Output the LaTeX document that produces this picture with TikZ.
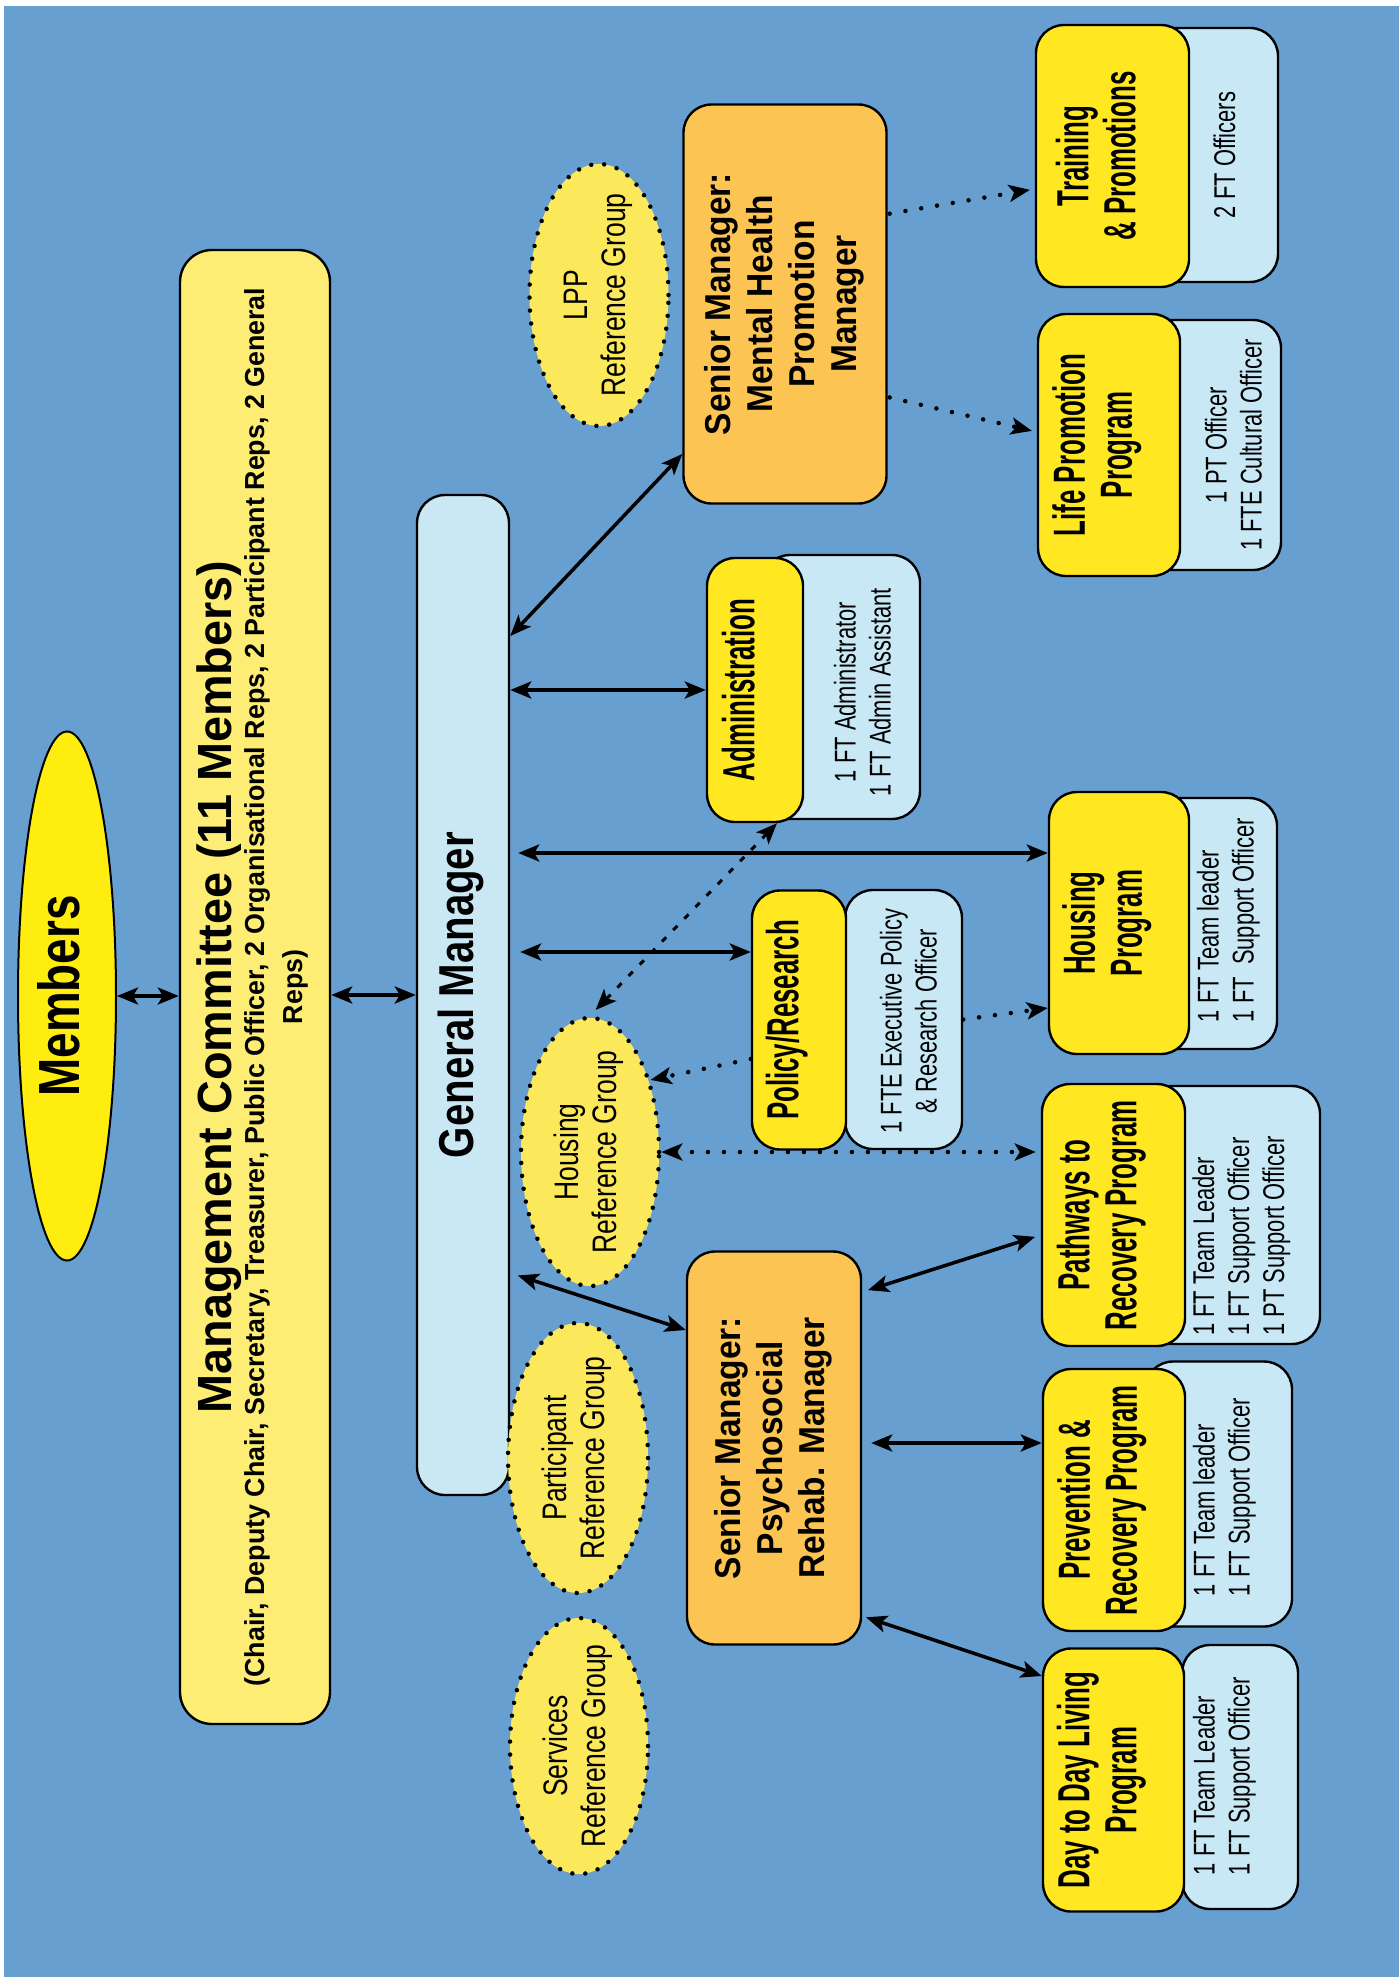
\documentclass[tikz,border=0pt]{standalone}
\usepackage{fontspec}
\usepackage{graphicx}
\setmainfont{Liberation Sans}
\newfontfamily\membfont[FakeStretch=0.79]{Liberation Sans}
\newfontfamily\mcfont[FakeStretch=0.975]{Liberation Sans}
\newfontfamily\gmfont[FakeStretch=0.82]{Liberation Sans}
\newfontfamily\smfont[FakeStretch=0.93]{Liberation Sans}
\newfontfamily\progfont[FakeStretch=0.575]{Liberation Sans}
\newfontfamily\stafffont[FakeStretch=0.73]{Liberation Sans}
\newfontfamily\rgfont[FakeStretch=0.78]{Liberation Sans}
\usetikzlibrary{arrows.meta,shapes.geometric}

\definecolor{bgblue}{HTML}{669FD0}
\definecolor{mcyellow}{HTML}{FDED74}
\definecolor{gmblue}{HTML}{CAE8F3}
\definecolor{staffblue}{HTML}{C8E8F5}
\definecolor{progyellow}{HTML}{FFE822}
\definecolor{membyellow}{HTML}{FFED10}
\definecolor{smorange}{HTML}{FCC452}
\definecolor{rgyellow}{HTML}{FCE95B}

\newcommand{\vtext}[2][c]{\rotatebox{90}{\begin{tabular}{@{}#1@{}}#2\end{tabular}}}

\begin{document}
\begin{tikzpicture}[x=1pt,y=-1pt,
    >={Stealth[length=21pt,width=17pt,inset=5pt]},
    every node/.style={inner sep=0pt},
    box/.style={draw,line width=2.4pt,rounded corners=28pt},
    progbox/.style={box,fill=progyellow,font=\progfont\bfseries\fontsize{45}{47}\selectfont,
      execute at end node={\hspace*{20pt}}},
    staffbox/.style={box,fill=staffblue},
    stafftext/.style={font=\stafffont\fontsize{30}{35}\selectfont},
    smbox/.style={box,fill=smorange,font=\smfont\bfseries\fontsize{36}{42}\selectfont},
    refgroup/.style={ellipse,draw,fill=rgyellow,line width=4.5pt,dash pattern=on 0pt off 13pt,line cap=round},
    rgtext/.style={font=\rgfont\fontsize{34}{38}\selectfont},
    solidarrow/.style={<->,line width=3.5pt},
    dotarrow/.style={line width=4.5pt,dash pattern=on 0pt off 16pt,line cap=round},
    dasharrow/.style={<->,line width=3pt,dash pattern=on 6pt off 10pt}]

  \useasboundingbox (0,0) rectangle (1399,1977);
  \fill[white] (0,0) rectangle (1399,1977);
  \fill[bgblue] (4,6) rectangle (1399,1977);

  \node[ellipse,draw,line width=2pt,fill=membyellow,minimum width=98pt,minimum height=529pt,
        font=\membfont\bfseries\fontsize{58}{60}\selectfont] (memb) at (67,996) {\vtext{Members}};

  \node[box,fill=mcyellow,rounded corners=32pt,minimum width=150pt,minimum height=1474pt,
        font=\mcfont\bfseries\fontsize{27.5}{38}\selectfont] (mc) at (255,987)
    {\vtext{{\fontsize{48}{50}\selectfont Management Committee (11 Members)}\\[-5pt]
      (Chair, Deputy Chair, Secretary, Treasurer, Public Officer, 2 Organisational Reps, 2 Participant Reps, 2 General\\
      Reps)}};

  \node[box,fill=gmblue,minimum width=92pt,minimum height=1000pt,
        font=\gmfont\bfseries\fontsize{49}{52}\selectfont] (gm) at (463,995) {\vtext{General Manager}};

  \node[smbox,minimum width=203pt,minimum height=399pt] (mh) at (785,304)
    {\vtext{Senior Manager:\\Mental Health\\Promotion\\Manager}};
  \node[smbox,minimum width=174pt,minimum height=393pt] (psr) at (774,1448)
    {\vtext{Senior Manager:\\Psychosocial\\Rehab. Manager}};

  \begin{scope}[every node/.append style={refgroup}]
    \node[minimum width=139pt,minimum height=262pt] (lpp) at (599,295) {};
    \node[minimum width=138pt,minimum height=268pt] (hrg) at (590,1152) {};
    \node[minimum width=140pt,minimum height=270pt] (prg) at (578,1458) {};
    \node[minimum width=138pt,minimum height=256pt] (srg) at (579,1746) {};
  \end{scope}
  \begin{scope}[every node/.append style={rgtext}]
    \node (lppTxt) at (lpp) {\vtext{LPP\\Reference Group}};
    \node (hrgTxt) at (hrg) {\vtext{Housing\\Reference Group}};
    \node (prgTxt) at (prg) {\vtext{Participant\\Reference Group}};
    \node (srgTxt) at (srg) {\vtext{Services\\Reference Group}};
  \end{scope}

  \node[staffbox,minimum width=131pt,minimum height=254pt] (trainStaff) at (1212.5,155) {};
  \node[progbox,minimum width=153pt,minimum height=262pt] (train) at (1112.5,156) {\vtext{Training\\\& Promotions}};
  \node[stafftext] (trainTxt) at (1228,155) {\vtext{2 FT Officers}};

  \node[staffbox,minimum width=141pt,minimum height=250pt] (lifeStaff) at (1210.5,445) {};
  \node[progbox,minimum width=142pt,minimum height=262pt] (life) at (1109,445) {\vtext{Life Promotion\\Program}};
  \node[stafftext] (lifeTxt) at (1237,445) {\vtext{1 PT Officer\\1 FTE Cultural Officer}};

  \node[staffbox,minimum width=158pt,minimum height=264pt] (adminStaff) at (841,687) {};
  \node[progbox,minimum width=96pt,minimum height=264pt] (admin) at (755,690) {\vtext{Administration}};
  \node[stafftext] (adminTxt) at (866,692) {\vtext{1 FT Administrator\\1 FT Admin Assistant}};

  \node[staffbox,minimum width=117pt,minimum height=259pt] (polStaff) at (903.5,1019.5) {};
  \node[progbox,minimum width=94pt,minimum height=259pt] (pol) at (799,1020) {\vtext{Policy/Research}};
  \node[stafftext] (polTxt) at (912,1021) {\vtext{1 FTE Executive Policy\\\& Research Officer}};

  \node[staffbox,minimum width=128pt,minimum height=251pt] (houseStaff) at (1213,923.5) {};
  \node[progbox,minimum width=140pt,minimum height=262pt] (house) at (1119,923) {\vtext{Housing\\Program}};
  \node[stafftext] (houseTxt) at (1229,920) {\vtext[l]{1 FT Team leader\\1 FT\ \ Support Officer}};

  \node[staffbox,minimum width=175pt,minimum height=258pt] (pathStaff) at (1232.5,1215) {};
  \node[progbox,minimum width=143pt,minimum height=262pt] (pathways) at (1113.5,1215) {\vtext{Pathways to\\Recovery Program}};
  \node[stafftext] (pathTxt) at (1242,1236) {\vtext[l]{1 FT Team Leader\\1 FT Support Officer\\1 PT Support Officer}};

  \node[staffbox,minimum width=147pt,minimum height=265pt] (prevStaff) at (1218.5,1494) {};
  \node[progbox,minimum width=142pt,minimum height=262pt] (prev) at (1114,1500) {\vtext{Prevention \&\\Recovery Program}};
  \node[stafftext] (prevTxt) at (1225,1497) {\vtext[l]{1 FT Team leader\\1 FT Support Officer}};

  \node[staffbox,minimum width=116pt,minimum height=264pt] (dayStaff) at (1240,1777) {};
  \node[progbox,minimum width=141pt,minimum height=263pt] (day) at (1113.5,1780) {\vtext{Day to Day Living\\Program}};
  \node[stafftext] (dayTxt) at (1225,1776) {\vtext[l]{1 FT Team Leader\\1 FT Support Officer}};

  \begin{scope}[every path/.append style={solidarrow}]
    \draw (memb.east) -- (memb.east -| mc.west);
    \draw (gm.west -| mc.east) -- (gm.west);
    \draw ([yshift=359pt]gm.east) -- ([yshift=-150pt]mh.west);
    \draw (gm.east |- admin.west) -- (admin.west);
    \draw[shorten <=8pt] ([yshift=142pt]gm.east) -- ([yshift=70pt]house.west);
    \draw[shorten <=10pt] ([yshift=43pt]gm.east) -- ([yshift=68pt]pol.west);
    \draw[shorten <=8pt] ([yshift=-278pt]gm.east) -- ([yshift=118pt]psr.west);
    \draw[shorten <=6pt,shorten >=6pt] ([yshift=156pt]psr.east) -- ([yshift=-20pt]pathways.west);
    \draw[shorten <=9pt] ([yshift=5pt]psr.east) -- ([yshift=57pt]prev.west);
    \draw[shorten <=4pt] ([yshift=-168pt]psr.east) -- ([yshift=104pt]day.west);
  \end{scope}

  \draw[dasharrow,shorten >=8pt] ([xshift=22pt]admin.south) -- (hrg.north);
  \draw[dotarrow,->] ([yshift=-39pt]pol.west) -- (hrg.50);
  \draw[dotarrow,->] (polStaff.east) -- ([yshift=-85pt]house.west);
  \draw[dotarrow,<->,shorten >=5pt] (hrg.east) -- (hrg.east -| pathways.west);
  \draw[dotarrow,->,shorten <=2pt,shorten >=5pt] ([yshift=90pt]mh.east) -- ([yshift=-33pt]train.west);
  \draw[dotarrow,->,shorten <=2pt,shorten >=5pt] ([yshift=-93pt]mh.east) -- ([yshift=13pt]life.west);

\end{tikzpicture}
\end{document}
